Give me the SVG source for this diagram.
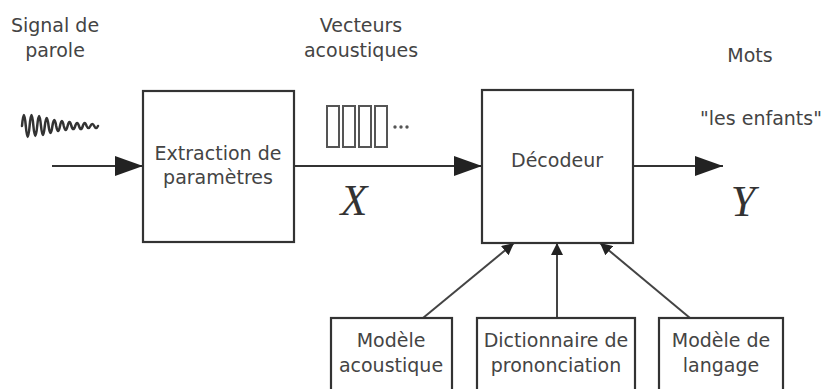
<svg xmlns="http://www.w3.org/2000/svg" width="824" height="389" viewBox="0 0 824 389">
<style>
.t{font-family:"DejaVu Sans",sans-serif;font-size:19px;fill:#444;text-anchor:middle}
.m{font-family:"Liberation Serif",serif;font-style:italic;font-size:44px;fill:#333;text-anchor:middle}
.box{fill:#fff;stroke:#333;stroke-width:2.2}
.ln{fill:none;stroke:#333;stroke-width:2.2}
.ln2{fill:none;stroke:#444;stroke-width:2}
</style>
<defs>
<marker id="big" viewBox="0 0 28 20" refX="28" refY="10" markerWidth="28" markerHeight="20" markerUnits="userSpaceOnUse" orient="auto"><path d="M0,0 L28,10 L0,20 z" fill="#222"/></marker>
<marker id="small" viewBox="0 0 12 12" refX="12" refY="6" markerWidth="12" markerHeight="12" markerUnits="userSpaceOnUse" orient="auto"><path d="M0,0 L12,6 L0,12 z" fill="#222"/></marker>
</defs>
<rect width="824" height="389" fill="#fff"/>
<g id="labels">
<text class="t" x="55" y="32">Signal de</text>
<text class="t" x="55" y="57">parole</text>
<text class="t" x="361" y="32">Vecteurs</text>
<text class="t" x="361" y="57">acoustiques</text>
<text class="t" x="750" y="62">Mots</text>
<text class="t" x="761" y="125">"les enfants"</text>
<text class="m" x="354" y="215">X</text>
<text class="m" x="743" y="216">Y</text>
</g>
<g id="wave">
<path fill="none" stroke="#333" stroke-width="2.5" stroke-linejoin="round" stroke-linecap="round" d="M22,126 q1.9,-22 3.8,0 q1.9,22 3.8,0 q1.9,-22 3.8,0 q1.9,20 3.8,0 q1.9,-20 3.8,0 q1.9,18 3.8,0 q1.9,-16 3.8,0 q1.9,14 3.8,0 q1.9,-12 3.8,0 q1.9,10 3.8,0 q1.9,-10 3.8,0 q1.9,8 3.8,0 q1.9,-8 3.8,0 q1.9,6 3.8,0 q1.9,-6 3.8,0 q1.9,6 3.8,0 q1.9,-6 3.8,0 q1.9,4 3.8,0 q1.9,-4 3.8,0 q1.9,4 3.8,0"/>
</g>
<g id="vectors" fill="none" stroke="#555" stroke-width="2">
<rect x="327" y="106" width="12" height="41"/>
<rect x="343" y="106" width="12" height="41"/>
<rect x="359" y="106" width="12" height="41"/>
<rect x="375" y="106" width="12" height="41"/>
<g fill="#555" stroke="none">
<circle cx="395" cy="127" r="1.7"/><circle cx="401" cy="127" r="1.7"/><circle cx="407" cy="127" r="1.7"/>
</g>
</g>
<g id="connectors">
<line class="ln" x1="52" y1="166" x2="143" y2="166" marker-end="url(#big)"/>
<line class="ln" x1="294" y1="166" x2="482" y2="166" marker-end="url(#big)"/>
<line class="ln" x1="633" y1="166" x2="723" y2="166" marker-end="url(#big)"/>
<line class="ln2" x1="423" y1="318" x2="514" y2="243" marker-end="url(#small)"/>
<line class="ln2" x1="557" y1="318" x2="557" y2="243" marker-end="url(#small)"/>
<line class="ln2" x1="690" y1="318" x2="600" y2="243" marker-end="url(#small)"/>
</g>
<g id="extraction">
<rect class="box" x="143" y="91" width="151" height="151"/>
<text class="t" x="218" y="160">Extraction de</text>
<text class="t" x="218" y="184">paramètres</text>
</g>
<g id="decodeur">
<rect class="box" x="482" y="90" width="151" height="153"/>
<text class="t" x="557" y="167">Décodeur</text>
</g>
<g id="modele-acoustique">
<rect class="box" x="331" y="318" width="121" height="85"/>
<text class="t" x="391" y="347">Modèle</text>
<text class="t" x="391" y="372">acoustique</text>
</g>
<g id="dictionnaire">
<rect class="box" x="477" y="318" width="158" height="85"/>
<text class="t" x="556" y="347">Dictionnaire de</text>
<text class="t" x="556" y="372">prononciation</text>
</g>
<g id="modele-langage">
<rect class="box" x="659" y="318" width="124" height="85"/>
<text class="t" x="721" y="347">Modèle de</text>
<text class="t" x="721" y="372">langage</text>
</g>
</svg>
